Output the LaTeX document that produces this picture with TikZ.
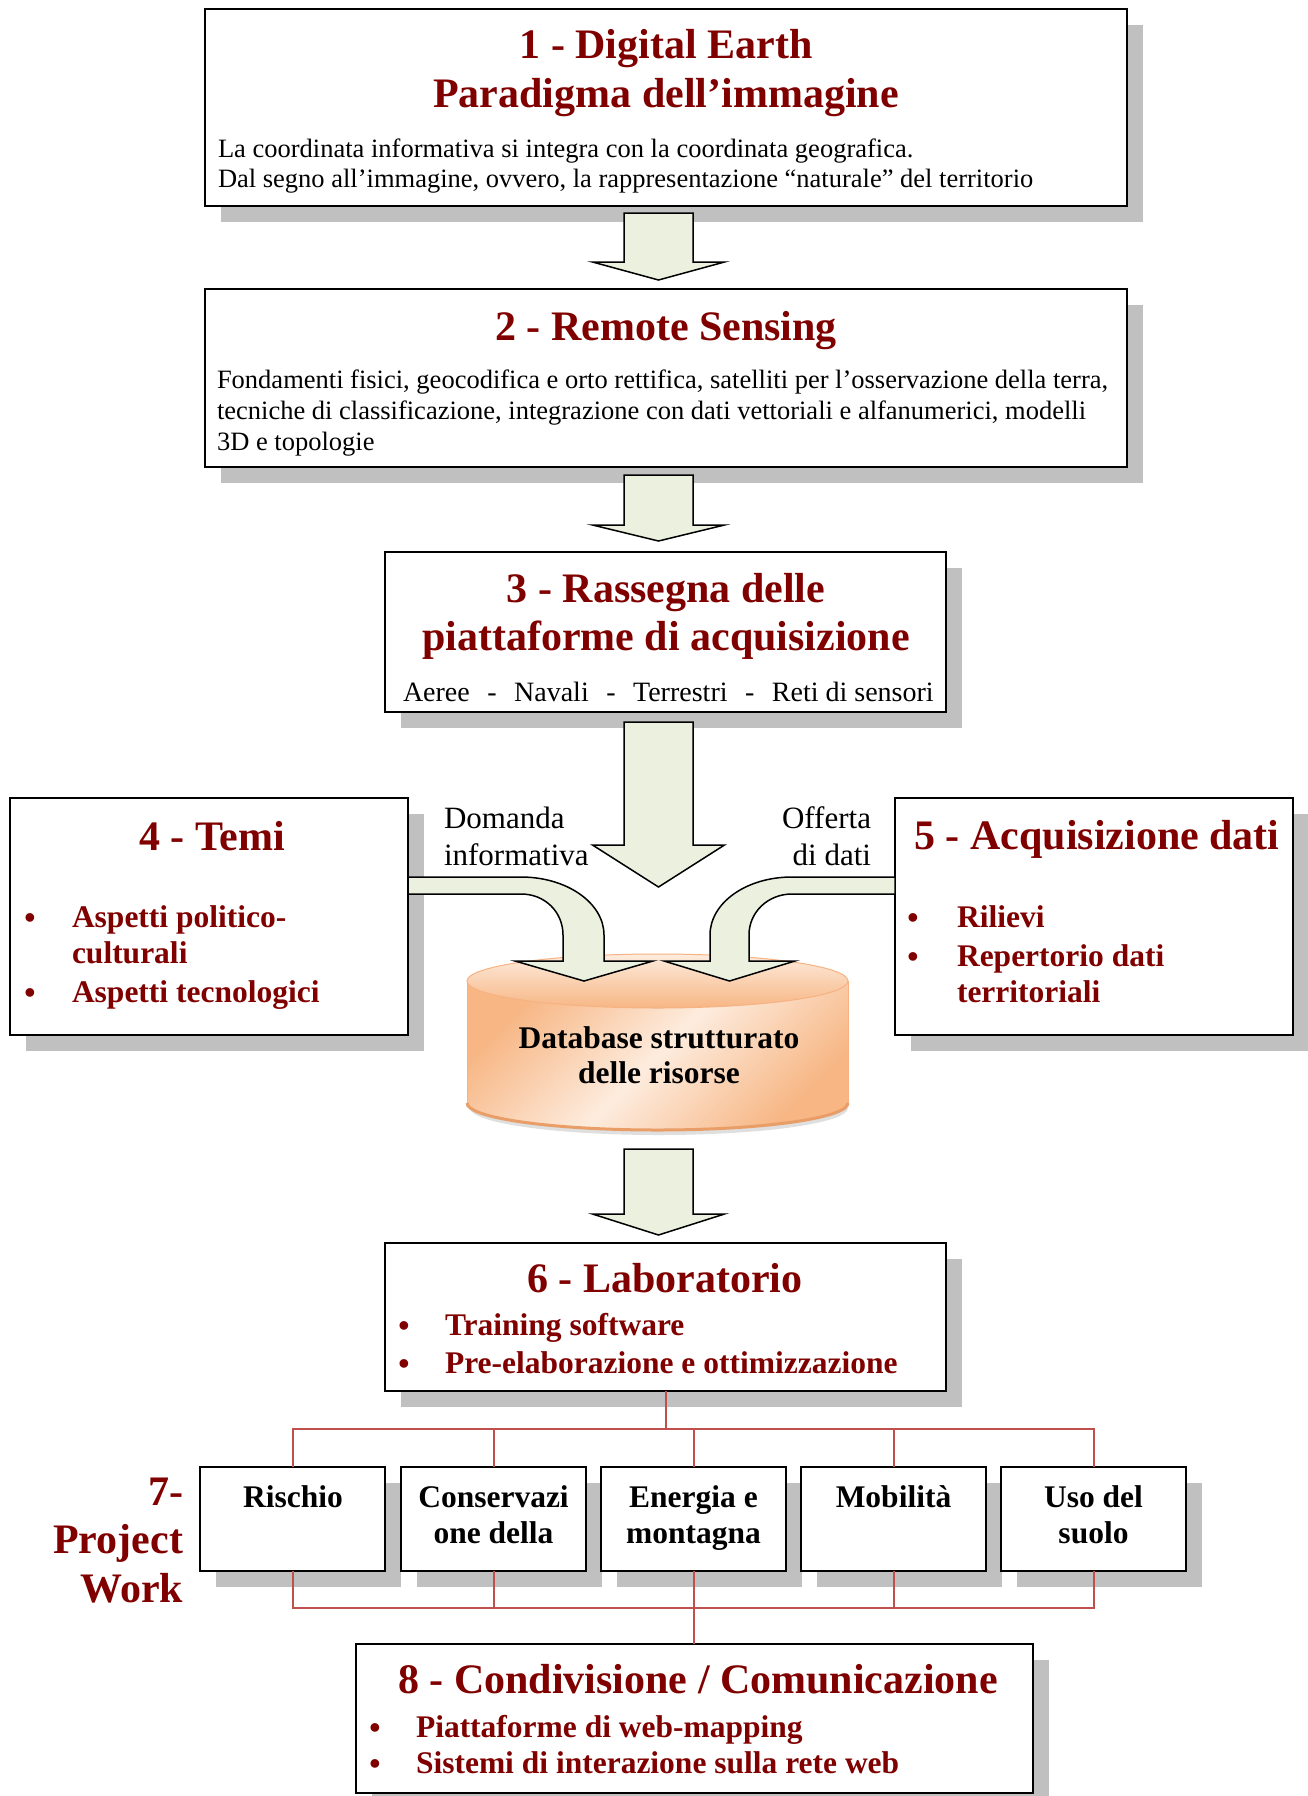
\documentclass[tikz,border=0pt]{standalone}
\usepackage{fontspec}
\setmainfont{Liberation Serif}
\usetikzlibrary{shadows}
\definecolor{dred}{RGB}{128,0,0}
\definecolor{shgray}{RGB}{192,192,192}
\definecolor{agreen}{RGB}{235,241,222}
\definecolor{cred}{RGB}{192,80,77}
\definecolor{cylD}{RGB}{247,182,132}
\definecolor{cylL}{RGB}{253,236,222}
\definecolor{cylE}{RGB}{233,158,104}
\definecolor{cylB}{RGB}{246,178,130}
\tikzset{
  box/.style={draw=black, line width=2pt, fill=white, rectangle, anchor=north west,
    drop shadow={shadow xshift=16pt, shadow yshift=-16pt, opacity=1, fill=shgray}},
  ttl/.style={font=\fontsize{42}{48}\selectfont\bfseries, text=dred, anchor=base},
  body/.style={font=\fontsize{26.5}{31}\selectfont, anchor=base west},
  itm/.style={font=\fontsize{31.5}{36}\selectfont\bfseries, text=dred, anchor=base west},
  bul/.style={font=\fontsize{32}{36}\selectfont\bfseries, text=dred, anchor=base},
  lbl/.style={font=\fontsize{31}{37}\selectfont},
  pwt/.style={font=\fontsize{31.5}{36}\selectfont\bfseries, anchor=base},
  bigarrow/.style={draw=black, line width=1.5pt, fill=agreen, line join=miter},
  conn/.style={draw=cred, line width=2pt},
  pics/darrow/.style 2 args={code={
    \path[bigarrow] (-34.5,0) -- (34.5,0) -- (34.5,#1) -- (66,#1) -- (0,#2) -- (-66,#1) -- (-34.5,#1) -- cycle;}}
}
\begin{document}
\begin{tikzpicture}[x=1pt, y=-1pt, every node/.style={inner sep=0pt, outer sep=0pt}]
\fill[white] (0,0) rectangle (1307,1796);
\useasboundingbox (0,0) rectangle (1307,1796);

% ---------- boxes ----------
\node[box, minimum width=922pt, minimum height=197pt] (b1) at (205,9) {};
\node[box, minimum width=922pt, minimum height=178pt] (b2) at (205,289) {};
\node[box, minimum width=561pt, minimum height=160pt] (b3) at (385,552) {};
\node[box, minimum width=398pt, minimum height=237pt] (b4) at (10,798) {};
\node[box, minimum width=398pt, minimum height=237pt] (b5) at (895,798) {};
\node[box, minimum width=561pt, minimum height=148pt] (b6) at (385,1243) {};
\node[box, minimum width=185pt, minimum height=104pt] (p1) at (200,1467) {};
\node[box, minimum width=185pt, minimum height=104pt] (p2) at (401,1467) {};
\node[box, minimum width=185pt, minimum height=104pt] (p3) at (601,1467) {};
\node[box, minimum width=185pt, minimum height=104pt] (p4) at (801,1467) {};
\node[box, minimum width=185pt, minimum height=104pt] (p5) at (1001,1467) {};
\node[box, minimum width=677pt, minimum height=149pt] (b8) at (355.5,1644) {};

% ---------- straight block arrows ----------
\pic at (658.5,213) {darrow={49}{67}};
\pic at (658.5,475) {darrow={50}{66}};
\pic at (658.5,722) {darrow={123}{165}};
\pic at (658.5,1149) {darrow={65}{86}};

% ---------- database cylinder ----------
\fill[gray!25] (470,1108) .. controls (470,1123) and (555,1135) .. (659,1135) .. controls (763,1135) and (848,1123) .. (848,1108) -- cycle;
\path[left color=cylD, right color=cylD, middle color=cylL, shading angle=45]
  (467,981) -- (467,1103) .. controls (467,1118) and (552,1130) .. (657.5,1130)
  .. controls (763,1130) and (848,1118) .. (848,1103) -- (848,981) -- cycle;
\draw[cylB, line width=1pt] (467,981) -- (467,1103);
\draw[cylB, line width=1pt] (848,981) -- (848,1103);
\draw[cylE, line width=3pt] (467,1103) .. controls (467,1118) and (552,1130) .. (657.5,1130)
  .. controls (763,1130) and (848,1118) .. (848,1103);
\path[left color=cylL, right color=cylD, shading angle=0] (657.5,981) ellipse [x radius=190.5, y radius=27];
\draw[cylB, line width=1pt] (657.5,981) ellipse [x radius=190.5, y radius=27];

% ---------- curved arrows ----------
\path[bigarrow] (408,877) -- (521,877) .. controls (567,877) and (604,903) .. (604,935)
  -- (604,961) -- (653,961) -- (584,981) -- (515,961) -- (563,961) -- (563,935)
  .. controls (563,912) and (545,894) .. (521,894) -- (408,894) -- cycle;
\path[bigarrow] (895,877) -- (792,877) .. controls (746,877) and (710,903) .. (710,935)
  -- (710,961) -- (664,961) -- (729.5,981) -- (795,961) -- (749,961) -- (749,935)
  .. controls (749,912) and (768,894) .. (792,894) -- (895,894) -- cycle;

% ---------- texts ----------
\node[ttl] (t1a) at (666,58) {1 - Digital Earth};
\node[ttl] (t1b) at (666,107) {Paradigma dell’immagine};
\node[body] (t1c) at (218,157) {La coordinata informativa si integra con la coordinata geografica.};
\node[body] (t1d) at (218,187) {Dal segno all’immagine, ovvero, la rappresentazione “naturale” del territorio};

\node[ttl] (t2a) at (666,340) {2 - Remote Sensing};
\node[body] (t2b) at (217,388) {Fondamenti fisici, geocodifica e orto rettifica, satelliti per l’osservazione della terra,};
\node[body] (t2c) at (217,419) {tecniche di classificazione, integrazione con dati vettoriali e alfanumerici, modelli};
\node[body] (t2d) at (217,450) {3D e topologie};

\node[ttl] (t3a) at (666,602) {3 - Rassegna delle};
\node[ttl] (t3b) at (666,650) {piattaforme di acquisizione};
\node[font=\fontsize{28}{31}\selectfont, anchor=base west] (t3c) at (403,701)
  {Aeree\hspace{17.5pt}-\hspace{17.5pt}Navali\hspace{17.5pt}-\hspace{17.5pt}Terrestri\hspace{17.5pt}-\hspace{17.5pt}Reti di sensori};

\node[ttl] (t4a) at (212,850) {4 - Temi};
\node[bul] (t4b) at (30,928) {•};
\node[itm] (t4c) at (72,927) {Aspetti politico-};
\node[itm] (t4d) at (72,963) {culturali};
\node[bul] (t4e) at (30,1003) {•};
\node[itm] (t4f) at (72,1002) {Aspetti tecnologici};

\node[ttl] (t5a) at (1097,849) {5 - Acquisizione dati};
\node[bul] (t5b) at (913,928) {•};
\node[itm] (t5c) at (957,927) {Rilievi};
\node[bul] (t5d) at (913,967) {•};
\node[itm] (t5e) at (957,966) {Repertorio dati};
\node[itm] (t5f) at (957,1002) {territoriali};

\node[lbl, anchor=base west] (ld1) at (444,828) {Domanda};
\node[lbl, anchor=base west] (ld2) at (444,865) {informativa};
\node[lbl, anchor=base east] (lo1) at (871,828) {Offerta};
\node[lbl, anchor=base east] (lo2) at (871,865) {di dati};

\node[pwt] (db1) at (659,1048) {Database strutturato};
\node[pwt] (db2) at (659,1083) {delle risorse};

\node[ttl] (t6a) at (665,1292) {6 - Laboratorio};
\node[bul] (t6b) at (404,1336) {•};
\node[itm] (t6c) at (445,1335) {Training software};
\node[bul] (t6d) at (404,1374) {•};
\node[itm] (t6e) at (445,1373) {Pre-elaborazione e ottimizzazione};

\node[ttl, anchor=base east] (t7a) at (183,1505) {7-};
\node[ttl, anchor=base east] (t7b) at (183,1553) {Project};
\node[ttl, anchor=base east] (t7c) at (183,1602) {Work};

\node[pwt] (p1t) at (293,1507) {Rischio};
\node[pwt] (p2ta) at (493.5,1507) {Conservazi};
\node[pwt] (p2tb) at (493.5,1543) {one della};
\node[pwt] (p3ta) at (693.5,1507) {Energia e};
\node[pwt] (p3tb) at (693.5,1543) {montagna};
\node[pwt] (p4t) at (893.5,1507) {Mobilità};
\node[pwt] (p5ta) at (1093.5,1507) {Uso del};
\node[pwt] (p5tb) at (1093.5,1543) {suolo};

\node[ttl] (t8a) at (698,1693) {8 - Condivisione / Comunicazione};
\node[bul] (t8b) at (375,1738) {•};
\node[itm] (t8c) at (416,1737) {Piattaforme di web-mapping};
\node[bul] (t8d) at (375,1774) {•};
\node[itm] (t8e) at (416,1773) {Sistemi di interazione sulla rete web};

% ---------- connectors ----------
\foreach \p in {p1,p2,p3,p4,p5}{
  \draw[conn] (b6.south) -- ++(0,38) -| (\p.north);
  \draw[conn] (\p.south) -- ++(0,37) -| (b8.north);
}
\end{tikzpicture}
\end{document}
